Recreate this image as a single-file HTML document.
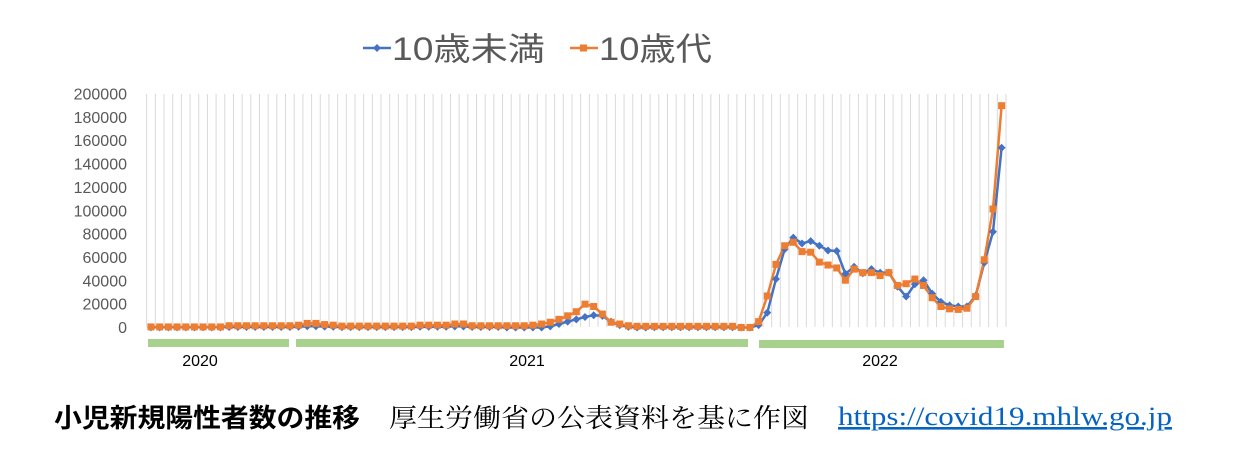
<!DOCTYPE html>
<html><head><meta charset="utf-8"><style>
body{margin:0;background:#fff;width:1233px;height:454px;overflow:hidden;}
svg{display:block}
</style></head><body>
<svg id="s" width="1233" height="454" xmlns="http://www.w3.org/2000/svg">
<g font-family="'Liberation Sans','Noto Sans CJK JP',sans-serif" fill="#595959">
<line x1="363" y1="48" x2="391" y2="48" stroke="#4472c4" stroke-width="2.5"/>
<path d="M377 44 L381 48 L377 52 L373 48Z" fill="#4472c4"/>
<text x="392" y="60" font-size="32" textLength="153" lengthAdjust="spacingAndGlyphs">10歳未満</text>
<line x1="570" y1="48" x2="598" y2="48" stroke="#ed7d31" stroke-width="2.5"/>
<rect x="580" y="44.5" width="7" height="7" fill="#ed7d31"/>
<text x="599" y="60" font-size="32" textLength="113" lengthAdjust="spacingAndGlyphs">10歳代</text>
</g>
<g id="ylab" font-family="'Liberation Sans',sans-serif" font-size="16" fill="#595959" text-anchor="end"></g>
<g id="grid" stroke="#d9d9d9" stroke-width="1"></g>
<g fill="#a9d18e">
<rect x="148" y="339" width="141" height="8"/>
<rect x="296" y="339" width="452" height="8"/>
<rect x="759" y="340" width="245" height="8"/>
</g>
<g font-family="'Liberation Sans',sans-serif" font-size="16" fill="#000" text-anchor="middle">
<text x="200" y="366">2020</text>
<text x="527" y="366">2021</text>
<text x="880" y="366">2022</text>
</g>
<g id="series"></g>
<g fill="#000">
<text x="54" y="427" font-weight="bold" font-family="'Noto Sans CJK JP',sans-serif" font-size="26" textLength="306" lengthAdjust="spacingAndGlyphs">小児新規陽性者数の推移</text>
<text x="389" y="427" font-family="'Noto Serif CJK SC',serif" font-size="26" textLength="420" lengthAdjust="spacingAndGlyphs">厚生労働省の公表資料を基に作図</text>
<text x="838" y="425" fill="#0563c1" text-decoration="underline" font-family="'Liberation Serif',serif" font-size="26" textLength="334" lengthAdjust="spacingAndGlyphs">https://covid19.mhlw.go.jp</text>
</g>
</svg>
<script>
var NS="http://www.w3.org/2000/svg";
function el(t,a,p){var e=document.createElementNS(NS,t);for(var k in a)e.setAttribute(k,a[k]);p.appendChild(e);return e;}
var y0=327.5,k=233.5/200000;
function Y(v){return y0-v*k;}
var yl=document.getElementById('ylab');
for(var v=0;v<=200000;v+=20000){var t=el('text',{x:127,y:Y(v)+5.5},yl);t.textContent=v;}
var g=document.getElementById('grid');
var s=8.68,x0=151;
for(var i=0;i<=99;i++){var x=x0-s/2+i*s;el('line',{x1:x,y1:94,x2:x,y2:327},g);}
var o=[],b=[];
for(var i=0;i<41;i++){
 var ov=500; if(i>=9)ov=1500; if(i>=17)ov=2000; if(i==18||i==19)ov=3500; if(i==20)ov=2500;
 if(i>=22&&i<=30)ov=1200; if(i>=31&&i<=34)ov=2000; if(i==35||i==36)ov=3000; if(i>=37)ov=1500;
 o.push(ov); b.push(ov*0.3);
}
o=o.concat([1500,1500,1500,2000,3000,4500,7000,10000,13500,20000,18000,11500,4500,3000,1500,1000,1000]);
b=b.concat([0,0,0,0,0,1000,3000,5000,7000,9000,10500,10000,5000,2000,500,0,0]);
for(var i=58;i<68;i++){o.push(1000);b.push(200);}
o=o.concat([0,0,5000,27000,54000,70000,73000,65000,64500,56000,53500,51000,40500,50000,47000,47000,44500,47000,36000,37500,41500,36000,25500,18000,16000,15500,16500,26500,58000,101500,190000]);
b=b.concat([0,0,2000,12700,41500,67000,77000,72000,74000,70000,66000,65500,46000,52000,46500,50000,47000,47000,35000,26500,37000,40500,29000,22000,19000,18000,18000,27000,55500,82000,154000]);
var sg=document.getElementById('series');
function line(d,c){var p=d.map(function(v,i){return (x0+i*s).toFixed(1)+','+Y(v).toFixed(1)}).join(' ');
 el('polyline',{points:p,fill:'none',stroke:c,'stroke-width':2.5,'stroke-linejoin':'round'},sg);}
line(b,'#4472c4');line(o,'#ed7d31');
b.forEach(function(v,i){var x=x0+i*s,y=Y(v);el('path',{d:'M'+x+' '+(y-4)+'L'+(x+4)+' '+y+'L'+x+' '+(y+4)+'L'+(x-4)+' '+y+'Z',fill:'#4472c4'},sg);});
o.forEach(function(v,i){var x=x0+i*s,y=Y(v);el('rect',{x:x-3.5,y:y-3.5,width:7,height:7,fill:'#ed7d31'},sg);});
</script>
</body></html>
